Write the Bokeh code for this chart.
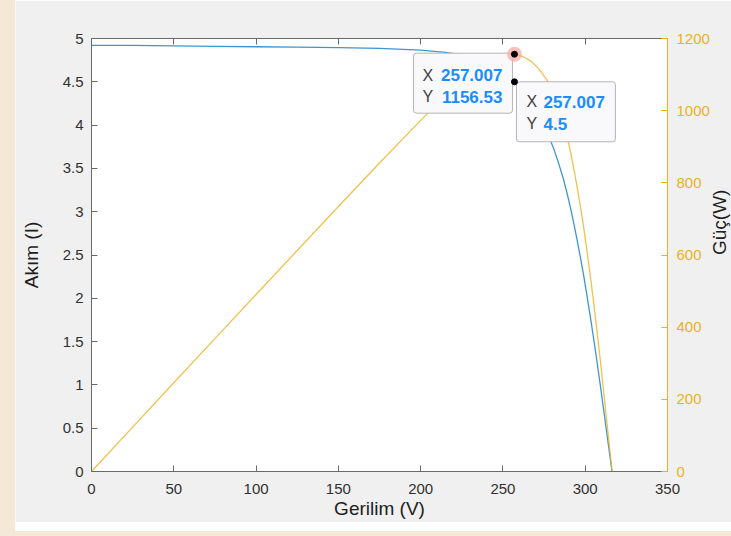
import math
from bokeh.plotting import figure
from bokeh.models import LinearAxis, Range1d, Label, Div
from bokeh.layouts import row, column
from bokeh.embed import file_html
from bokeh.resources import INLINE

# ---- data ----
voltage = [0, 25, 50, 75, 100, 125, 150, 175, 200, 215, 225, 235, 242, 248, 253,
           257.007, 262, 267, 272, 277, 281, 284, 287, 289, 291, 293, 295, 297,
           299, 301, 303, 305, 307, 309, 311, 313, 315, 316.3]
current = [4.92, 4.92, 4.915, 4.91, 4.905, 4.90, 4.895, 4.885, 4.865, 4.84, 4.81,
           4.76, 4.71, 4.645, 4.565, 4.50, 4.39, 4.26, 4.10, 3.91, 3.72, 3.55,
           3.36, 3.21, 3.05, 2.87, 2.68, 2.48, 2.27, 2.04, 1.80, 1.55, 1.29, 1.02,
           0.74, 0.46, 0.18, 0.0]
power = [0, 123.0, 245.8, 368.3, 490.5, 612.5, 734.3, 854.9, 973.0, 1040.6,
         1082.3, 1118.6, 1139.8, 1152.0, 1154.9, 1156.53, 1150.2, 1137.4, 1115.2,
         1083.1, 1045.3, 1008.2, 964.3, 927.7, 887.6, 840.9, 790.6, 736.6, 678.7,
         614.0, 545.4, 472.8, 396.0, 315.2, 230.1, 144.0, 56.7, 0]

mpp_v = 257.007
mpp_i = 4.5
mpp_p = 1156.53

x_ticks = [0, 50, 100, 150, 200, 250, 300, 350]
y_ticks = [0, 0.5, 1, 1.5, 2, 2.5, 3, 3.5, 4, 4.5, 5]
y_tick_labels = ["0", "0.5", "1", "1.5", "2", "2.5", "3", "3.5", "4", "4.5", "5"]
p_ticks = [0, 200, 400, 600, 800, 1000, 1200]

x_label = "Gerilim (V)"
y_label = "Akım (I)"
p_label = "Güç(W)"

FONT = "Liberation Sans"
BLUE = "#0072BD"
YELLOW = "#EDB120"
AX_GRAY = "#6a6a6a"
TXT = "#303030"
TIP_BLUE = "#1a8cff"
TIP_BG = "#f9f9fb"
BEIGE = "#f3e9d6"

p = figure(width=731, height=522, x_range=Range1d(0, 350), y_range=Range1d(0, 5),
           output_backend="svg", toolbar_location=None,
           min_border_left=76, min_border_right=79, min_border_top=38,
           min_border_bottom=51, background_fill_color="white",
           border_fill_color="#f0f0f0", outline_line_color=None)
p.grid.visible = False
p.extra_y_ranges = {"power": Range1d(0, 1200)}


def style(ax, color, label_color, standoff):
    ax.axis_line_color = color
    ax.axis_line_width = 1
    ax.major_tick_line_color = color
    ax.major_tick_in = 6
    ax.major_tick_out = 0
    ax.minor_tick_line_color = None
    ax.major_label_text_color = label_color
    ax.major_label_text_font = FONT
    ax.major_label_text_font_size = "15px"
    ax.major_label_standoff = standoff
    ax.axis_label_text_font = FONT
    ax.axis_label_text_font_size = "19px"
    ax.axis_label_text_font_style = "normal"
    ax.axis_label_text_color = "#202020"


xa = p.xaxis[0]
xa.ticker = x_ticks
xa.axis_label = x_label
style(xa, AX_GRAY, TXT, 12)
xa.axis_label_standoff = 1

ya = p.yaxis[0]
ya.ticker = y_ticks
ya.major_label_overrides = {t: s for t, s in zip(y_ticks, y_tick_labels)}
ya.axis_label = y_label
style(ya, AX_GRAY, TXT, 8)
ya.axis_label_standoff = 18

top = LinearAxis(ticker=x_ticks)
style(top, AX_GRAY, TXT, 0)
top.major_label_overrides = {t: "" for t in x_ticks}
p.add_layout(top, "above")

ra = LinearAxis(y_range_name="power", ticker=p_ticks, axis_label=p_label)
style(ra, YELLOW, YELLOW, 9)
ra.axis_label_standoff = 7
if hasattr(ra, "axis_label_orientation"):
    ra.axis_label_orientation = math.pi / 2
p.add_layout(ra, "right")

p.line(voltage, current, color=BLUE, line_width=1.3, line_alpha=0.75)
p.line(voltage, power, y_range_name="power", color=YELLOW, line_width=1.3, line_alpha=0.8)

# ---- data tips ----
box1 = Label(x=mpp_v, y=mpp_p, y_range_name="power", x_offset=-2, y_offset=1,
             text=f"X {mpp_v}\nY {mpp_p}", text_font=FONT, text_font_size="16px",
             text_font_style="bold", text_line_height=1.0, text_color=TIP_BG,
             text_align="right", text_baseline="top",
             background_fill_color=TIP_BG, border_line_color="#b4b4b4",
             padding=13, border_radius=3)
p.add_layout(box1)
box2 = Label(x=mpp_v, y=mpp_i, x_offset=2, y_offset=0,
             text=f"X {mpp_v}\nY {mpp_i}", text_font=FONT, text_font_size="16px",
             text_font_style="bold", text_line_height=1.0, text_color=TIP_BG,
             text_align="left", text_baseline="top",
             background_fill_color=TIP_BG, border_line_color="#b4b4b4",
             padding=13, border_radius=3)
p.add_layout(box2)


def tip_text(x, y, rng, dx, dy, txt, color, bold, align):
    kw = {} if rng is None else {"y_range_name": rng}
    p.add_layout(Label(x=x, y=y, x_offset=dx, y_offset=dy, text=txt,
                       text_font=FONT,
                       text_font_size="17px" if bold else "16px",
                       text_font_style="bold" if bold else "normal",
                       text_color=color, text_align=align,
                       text_baseline="alphabetic", **kw))


tip_text(mpp_v, mpp_p, "power", -92, -21, "X", "#404040", False, "left")
tip_text(mpp_v, mpp_p, "power", -12, -21, f"{mpp_v}", TIP_BLUE, True, "right")
tip_text(mpp_v, mpp_p, "power", -92, -42.5, "Y", "#404040", False, "left")
tip_text(mpp_v, mpp_p, "power", -12, -42.5, f"{mpp_p}", TIP_BLUE, True, "right")

tip_text(mpp_v, mpp_i, None, 12, -20, "X", "#404040", False, "left")
tip_text(mpp_v, mpp_i, None, 29, -20, f"{mpp_v}", TIP_BLUE, True, "left")
tip_text(mpp_v, mpp_i, None, 12, -42, "Y", "#404040", False, "left")
tip_text(mpp_v, mpp_i, None, 29, -42, f"{mpp_i}", TIP_BLUE, True, "left")

halo = p.scatter([mpp_v], [mpp_p], y_range_name="power", size=15,
                 fill_color="#f5aca4", fill_alpha=0.75, line_color=None)
d1 = p.scatter([mpp_v], [mpp_p], y_range_name="power", size=6, color="black")
d2 = p.scatter([mpp_v], [mpp_i], size=6, color="black")
for r in (halo, d1, d2):
    r.level = "overlay"

left_strip = Div(text="", width=15, height=536, margin=0,
                 styles={"background-color": BEIGE})
white_strip = Div(text="", width=731, height=9, margin=0,
                  styles={"background-color": "#ffffff"})
bottom_strip = Div(text="", width=731, height=5, margin=0,
                   styles={"background-color": BEIGE})

layout = row(left_strip, column(p, white_strip, bottom_strip, spacing=0),
             spacing=0, width=731, height=536,
             styles={"overflow": "hidden"})

open("out.html", "w").write(file_html(layout, INLINE))
